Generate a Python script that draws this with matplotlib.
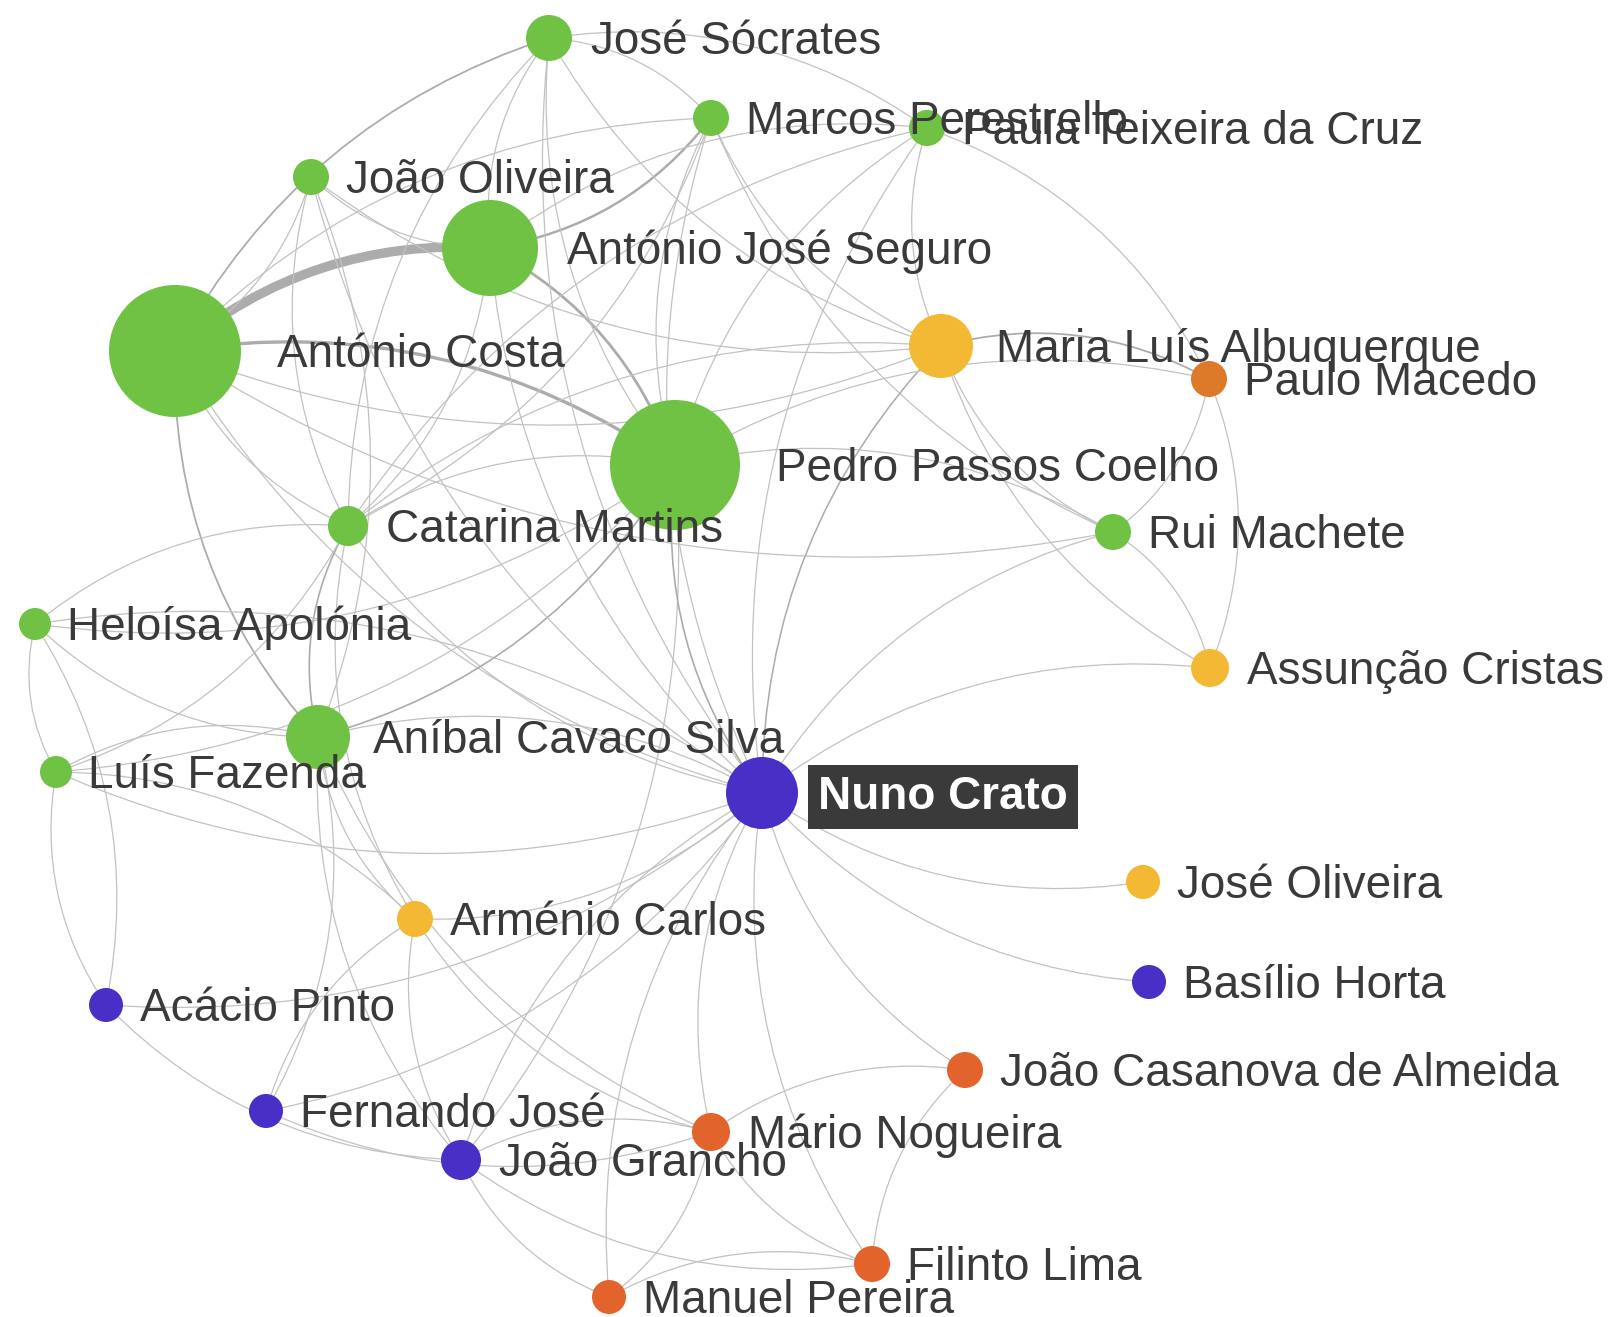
import matplotlib
matplotlib.use("Agg")
import matplotlib.pyplot as plt
from matplotlib.patches import Circle, FancyArrowPatch

W, H = 1610, 1317

# nodes: key, label, x, y (pixel), radius, group
keys = ["JS", "MP", "PT", "JO", "AJS", "AC", "ML", "PM", "PPC", "CM",
        "RM", "HA", "AS", "ACS", "LF", "NC", "JOl", "AR", "BH", "AP",
        "JC", "FJ", "MN", "JG", "FL", "MPe"]
labels = ["José Sócrates", "Marcos Perestrello", "Paula Teixeira da Cruz",
          "João Oliveira", "António José Seguro", "António Costa",
          "Maria Luís Albuquerque", "Paulo Macedo", "Pedro Passos Coelho",
          "Catarina Martins", "Rui Machete", "Heloísa Apolónia",
          "Assunção Cristas", "Aníbal Cavaco Silva", "Luís Fazenda",
          "Nuno Crato", "José Oliveira", "Arménio Carlos", "Basílio Horta",
          "Acácio Pinto", "João Casanova de Almeida", "Fernando José",
          "Mário Nogueira", "João Grancho", "Filinto Lima", "Manuel Pereira"]
xs = [549, 711, 927, 311, 490, 175, 941, 1209, 675, 348,
      1113, 35, 1210, 318, 56, 762, 1143, 415, 1149, 106,
      965, 266, 711, 461, 872, 609]
ys = [38, 118, 128, 177, 248, 351, 346, 379, 465, 526,
      532, 624, 668, 737, 772, 793, 882, 919, 982, 1005,
      1070, 1111, 1132, 1160, 1264, 1297]
radii = [23, 18, 18, 18, 48, 66, 32, 18, 65, 20,
         18, 16, 19, 32, 16, 36, 17, 18, 17, 17,
         18, 17, 19, 20, 18, 17]
groups = ["g", "g", "g", "g", "g", "g", "y", "o2", "g", "g",
          "g", "g", "y", "g", "g", "p", "y", "y", "p", "p",
          "o", "p", "o", "p", "o", "o"]

# edges: source, target, weight
edges = [
    ("AJS", "AC", 8.5), ("PPC", "AC", 3), ("PPC", "AJS", 2.5),
    ("JS", "AC", 1.6), ("AC", "ACS", 1.6), ("AJS", "MP", 2.2),
    ("AC", "JO", 1), ("AC", "CM", 1), ("AC", "ML", 1), ("MP", "AC", 1),
    ("AC", "RM", 1), ("AC", "NC", 1), ("JO", "AJS", 1), ("JO", "CM", 1),
    ("ACS", "JO", 1), ("JO", "ML", 1), ("JS", "AJS", 1), ("JS", "PPC", 1),
    ("MP", "JS", 1), ("PT", "JS", 1), ("JS", "CM", 1), ("JS", "ML", 1),
    ("JS", "NC", 1), ("MP", "PPC", 1), ("MP", "ML", 1), ("CM", "MP", 1),
    ("MP", "RM", 1), ("MP", "NC", 1), ("PT", "PPC", 1), ("PT", "ML", 1),
    ("PM", "PT", 1), ("PT", "AJS", 1), ("PT", "CM", 1), ("PT", "NC", 1),
    ("ML", "RM", 1), ("ML", "AS", 1), ("ML", "CM", 1), ("ML", "NC", 1.4),
    ("PM", "ML", 1.6), ("RM", "PM", 1), ("AS", "PM", 1), ("PM", "PPC", 1),
    ("AS", "RM", 1), ("RM", "PPC", 1), ("RM", "NC", 1.2), ("AS", "NC", 1),
    ("CM", "ACS", 1.5), ("CM", "HA", 1), ("LF", "CM", 1), ("CM", "AR", 1),
    ("PPC", "CM", 1), ("CM", "AJS", 1), ("CM", "NC", 1), ("HA", "LF", 1),
    ("AP", "HA", 1), ("HA", "ACS", 1), ("NC", "HA", 1), ("HA", "PPC", 1),
    ("LF", "AP", 1), ("ACS", "LF", 1), ("LF", "NC", 1), ("LF", "PPC", 1),
    ("ACS", "PPC", 1.5), ("ACS", "AR", 1), ("ACS", "JG", 1), ("FJ", "ACS", 1),
    ("ACS", "MN", 1), ("NC", "ACS", 1), ("AR", "FJ", 1), ("AR", "MN", 1),
    ("AR", "JG", 1), ("AR", "NC", 1), ("AR", "LF", 1), ("AP", "NC", 1),
    ("AP", "JG", 1), ("FJ", "MN", 1), ("JG", "MPe", 1), ("JG", "FL", 1),
    ("MN", "JG", 1), ("NC", "JG", 1), ("JG", "PPC", 1), ("JC", "MN", 1),
    ("MN", "FL", 1), ("MPe", "MN", 1), ("NC", "MN", 1), ("JC", "FL", 1),
    ("NC", "JC", 1), ("NC", "FL", 1), ("FL", "MPe", 1), ("NC", "MPe", 1),
    ("NC", "JOl", 1), ("NC", "BH", 1), ("PPC", "NC", 1.5), ("AJS", "NC", 1),
    ("FJ", "NC", 1), ("JO", "NC", 1),
]

colors = {"g": "#6fc244", "y": "#f3b935", "o": "#e2632c", "o2": "#dc7a29",
          "p": "#4a2fc6"}
focus = "NC"
pos = {k: (x, y) for k, x, y in zip(keys, xs, ys)}

fig = plt.figure(figsize=(W / 100, H / 100), dpi=100)
ax = fig.add_axes([0, 0, 1, 1])
ax.set_xlim(0, W)
ax.set_ylim(H, 0)
ax.axis("off")

for a, b, w in edges:
    heavy = w > 1.3
    line = FancyArrowPatch(pos[a], pos[b], arrowstyle="-",
                           connectionstyle="arc3,rad=0.2",
                           shrinkA=0, shrinkB=0,
                           lw=0.8 * w if heavy else 0.9,
                           color="#acacac" if heavy else "#c2c2c2",
                           zorder=1)
    ax.add_patch(line)

for k, x, y, r, g in zip(keys, xs, ys, radii, groups):
    ax.add_patch(Circle((x, y), r, fc=colors[g], ec="none", zorder=2))

for k, lab, x, y, r in zip(keys, labels, xs, ys, radii):
    tx = x + 1.4 * r + 10
    if k == focus:
        ax.text(tx - 4, y + 16, lab, fontsize=33, fontweight="bold",
                family="Liberation Sans", color="white", va="baseline",
                zorder=4,
                bbox=dict(boxstyle="square,pad=0.22", fc="#3a3a3a", ec="none"))
    else:
        ax.text(tx, y + 16, lab, fontsize=33, family="Liberation Sans",
                color="#3a3a3a", va="baseline", zorder=3)

fig.savefig("out.png", dpi=100)
